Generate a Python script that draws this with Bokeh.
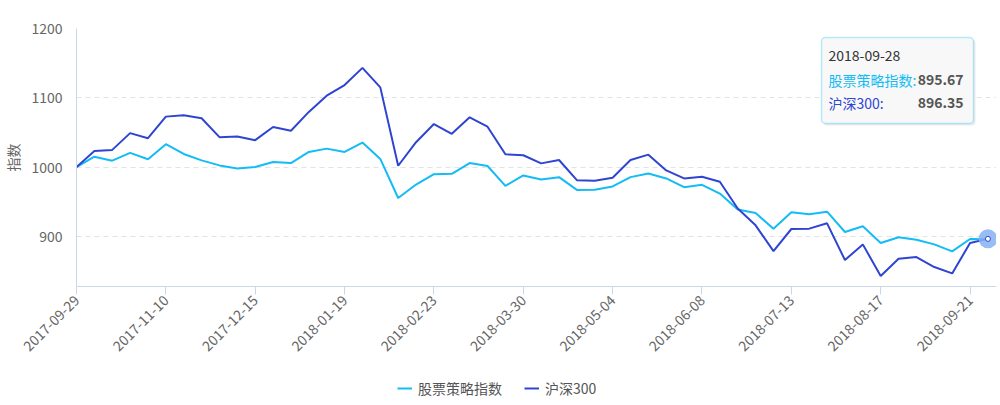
from math import pi
from bokeh.plotting import figure
from bokeh.layouts import column
from bokeh.models import Range1d, FixedTicker, Legend, LegendItem, Label, BoxAnnotation
from bokeh.core.properties import value
from bokeh.embed import file_html
from bokeh.resources import INLINE

# ---------------- data ----------------
dates = [
    "2017-09-29", "2017-10-13", "2017-10-20", "2017-10-27", "2017-11-03",
    "2017-11-10", "2017-11-17", "2017-11-24", "2017-12-01", "2017-12-08",
    "2017-12-15", "2017-12-22", "2017-12-29", "2018-01-05", "2018-01-12",
    "2018-01-19", "2018-01-26", "2018-02-02", "2018-02-09", "2018-02-16",
    "2018-02-23", "2018-03-02", "2018-03-09", "2018-03-16", "2018-03-23",
    "2018-03-30", "2018-04-06", "2018-04-13", "2018-04-20", "2018-04-27",
    "2018-05-04", "2018-05-11", "2018-05-18", "2018-05-25", "2018-06-01",
    "2018-06-08", "2018-06-15", "2018-06-22", "2018-06-29", "2018-07-06",
    "2018-07-13", "2018-07-20", "2018-07-27", "2018-08-03", "2018-08-10",
    "2018-08-17", "2018-08-24", "2018-08-31", "2018-09-07", "2018-09-14",
    "2018-09-21", "2018-09-28",
]

strategy = [
    1000.0, 1015.0, 1009.2, 1020.4, 1011.2, 1033.0, 1018.9, 1009.7, 1002.4, 998.0,
    1000.0, 1007.3, 1005.8, 1021.8, 1026.6, 1021.8, 1035.4, 1011.7, 955.3, 974.8,
    989.8, 990.3, 1005.8, 1001.5, 972.8, 987.9, 982.0, 985.4, 967.0, 967.1,
    972.0, 985.5, 990.8, 983.6, 971.0, 974.4, 961.8, 938.6, 933.8, 911.1,
    934.8, 931.9, 935.6, 906.3, 914.5, 890.4, 898.6, 895.2, 888.4, 878.3,
    896.1, 895.67,
]

hs300 = [
    1000.0, 1023.3, 1024.8, 1049.0, 1041.7, 1072.8, 1074.8, 1070.4, 1043.2, 1044.2,
    1038.8, 1057.8, 1052.4, 1079.6, 1103.0, 1118.4, 1143.2, 1115.0, 1001.9, 1035.9,
    1062.1, 1048.0, 1071.8, 1058.3, 1018.4, 1017.0, 1005.3, 1010.2, 981.1, 980.2,
    984.5, 1010.1, 1017.9, 995.2, 983.6, 986.0, 978.7, 940.1, 915.9, 878.7,
    910.6, 911.1, 918.8, 865.8, 888.4, 842.7, 867.7, 870.1, 855.7, 846.5,
    890.4, 896.35,
]

series_names = ["股票策略指数", "沪深300"]
y_title = "指数"
y_ticks = [900, 1000, 1100, 1200]
x_label_step = 5

# ---------------- style ----------------
FONT = "Noto Sans CJK SC"
CYAN = "#14bcf5"
BLUE = "#2f45d2"
AXIS = "#ccd6eb"
LABEL = "#666666"

x = list(range(len(dates)))

p = figure(
    frame_width=920, frame_height=258,
    output_backend="svg", toolbar_location=None,
    x_range=Range1d(0, 51.48), y_range=Range1d(827.6, 1200),
    min_border_left=76, min_border_right=0, min_border_top=28, min_border_bottom=78,
)
p.outline_line_color = None
p.background_fill_color = "white"
p.border_fill_color = "white"

# grid
p.xgrid.visible = False
p.ygrid.ticker = FixedTicker(ticks=y_ticks)
p.ygrid.grid_line_color = "#e3e3e3"
p.ygrid.grid_line_dash = "5 4"
p.ygrid.grid_line_width = 1

# y axis
p.yaxis.ticker = FixedTicker(ticks=y_ticks)
p.yaxis.axis_line_color = AXIS
p.yaxis.major_tick_line_color = None
p.yaxis.minor_tick_line_color = None
p.yaxis.major_tick_out = 0
p.yaxis.major_label_standoff = 14
p.yaxis.major_label_text_font = FONT
p.yaxis.major_label_text_font_size = "14px"
p.yaxis.major_label_text_color = LABEL
p.yaxis.axis_label = y_title
p.yaxis.axis_label_standoff = 5
p.yaxis.axis_label_text_font = FONT
p.yaxis.axis_label_text_font_size = "14px"
p.yaxis.axis_label_text_font_style = "normal"
p.yaxis.axis_label_text_color = LABEL

# x axis
tick_idx = list(range(0, len(dates), x_label_step))
p.xaxis.ticker = FixedTicker(ticks=tick_idx)
p.xaxis.major_label_overrides = {i: dates[i] for i in tick_idx}
p.xaxis.axis_line_color = AXIS
p.xaxis.major_tick_line_color = AXIS
p.xaxis.minor_tick_line_color = None
p.xaxis.major_tick_out = 8
p.xaxis.major_tick_in = 0
p.xaxis.major_label_standoff = 3
p.xaxis.major_label_orientation = pi / 4
p.xaxis.major_label_text_font = FONT
p.xaxis.major_label_text_font_size = "14px"
p.xaxis.major_label_text_color = LABEL

# lines
p.line(x, strategy, line_color=CYAN, line_width=2)
p.line(x, hs300, line_color=BLUE, line_width=2)

# hover highlight on last point
p.scatter([x[-1]], [hs300[-1]], size=19, fill_color="#86b2f2", fill_alpha=0.85, line_color=None)
p.scatter([x[-1]], [hs300[-1]], size=5, fill_color="white", line_color=BLUE, line_width=1)

# tooltip box
p.add_layout(BoxAnnotation(
    left=747, right=899, top=247, bottom=161,
    left_units="screen", right_units="screen", top_units="screen", bottom_units="screen",
    fill_color="#000000", fill_alpha=0.08, line_color=None, border_radius=4,
))
p.add_layout(BoxAnnotation(
    left=745, right=897, top=249, bottom=163,
    left_units="screen", right_units="screen", top_units="screen", bottom_units="screen",
    fill_color="#f8f8f8", fill_alpha=1, line_color=CYAN, line_width=1.5, border_radius=4,
))

tt_rows = [
    (dates[-1], None, "#333333", 230.7),
    (series_names[0] + ":", f"{strategy[-1]:.2f}", CYAN, 206.7),
    (series_names[1] + ":", f"{hs300[-1]:.2f}", BLUE, 183.7),
]
for left_txt, right_txt, col, yy in tt_rows:
    p.add_layout(Label(
        x=752, y=yy, x_units="screen", y_units="screen", text=left_txt,
        text_align="left", text_baseline="middle",
        text_font=FONT, text_font_size="14px", text_color=col,
    ))
    if right_txt is not None:
        p.add_layout(Label(
            x=887, y=yy, x_units="screen", y_units="screen", text=right_txt,
            text_align="right", text_baseline="middle",
            text_font=FONT, text_font_size="14px", text_font_style="bold",
            text_color="#555555",
        ))

# ---------------- legend strip ----------------
# (its frame is aligned with the main plot's frame by the column layout;
#  the series are drawn out of its visible range so only the legend shows)
leg = figure(
    width=996, height=40, output_backend="svg", toolbar_location=None,
    x_range=Range1d(0, 1), y_range=Range1d(0, 1), min_border=0,
)
leg.axis.visible = False
leg.grid.visible = False
leg.outline_line_color = None
lr1 = leg.line(x, strategy, line_color=CYAN, line_width=2)
lr2 = leg.line(x, hs300, line_color=BLUE, line_width=2)
legend = Legend(
    items=[LegendItem(label=series_names[0], renderers=[lr1]),
           LegendItem(label=series_names[1], renderers=[lr2])],
    orientation="horizontal", location=(321, 6.5),
    padding=0, margin=0, spacing=22, label_standoff=6,
    glyph_width=15, glyph_height=16, label_height=16,
    label_text_font=FONT, label_text_font_size="14px", label_text_color="#555555",
    border_line_color=None, background_fill_color=None, background_fill_alpha=0,
)
leg.add_layout(legend, "center")

open("out.html", "w").write(file_html(column(p, leg, spacing=0), INLINE))
